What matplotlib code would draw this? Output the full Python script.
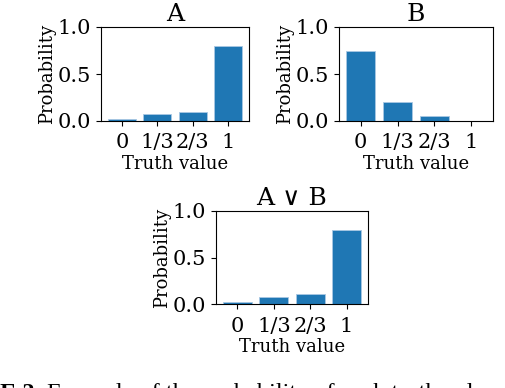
import matplotlib
matplotlib.use("Agg")
import matplotlib.pyplot as plt

categories = ["0", "1/3", "2/3", "1"]
values_a = [0.025, 0.07, 0.10, 0.80]
values_b = [0.75, 0.20, 0.05, 0.0]
values_c = [0.025, 0.075, 0.105, 0.80]
titles = ["A", "B", "A ∨ B"]
yticks = [0.0, 0.5, 1.0]
ytick_labels = ["0.0", "0.5", "1.0"]

plt.rcParams['font.family'] = ['DejaVu Serif', 'DejaVu Sans']

W, H = 506, 388
fig = plt.figure(figsize=(W / 100, H / 100), dpi=100)

def rect(l, t, r, b):
    return [l / W, 1 - b / H, (r - l) / W, (b - t) / H]

boxes = [rect(101, 27, 249, 121), rect(339, 27, 493, 121), rect(216, 211, 368, 304)]
for box, vals, title in zip(boxes, [values_a, values_b, values_c], titles):
    ax = fig.add_axes(box)
    x = list(range(len(categories)))
    ax.bar(x, vals, width=0.8, color="#1f77b4", edgecolor="#a9c8e3", linewidth=0.6)
    ax.set_ylim(0, 1.0)
    ax.set_yticks(yticks)
    ax.set_yticklabels(ytick_labels)
    ax.set_xticks(x)
    ax.set_xticklabels(categories)
    ax.tick_params(labelsize=15)
    ax.tick_params(axis="x", pad=5.5)
    ax.set_ylabel("Probability", fontsize=13, labelpad=1)
    ax.set_xlabel("Truth value", fontsize=13, labelpad=2)
    ax.set_title(title, fontsize=18, pad=4)

base_y = (H - 399) / H
fig.text(0.0, base_y, "E 2:", fontsize=17.5, family="Liberation Serif",
         weight="bold", va="baseline", ha="left")
fig.text(47 / W, base_y, "Example of the probability of each truth value of",
         fontsize=17.5, family="Liberation Serif", va="baseline", ha="left")

fig.savefig("out.png", dpi=100)
